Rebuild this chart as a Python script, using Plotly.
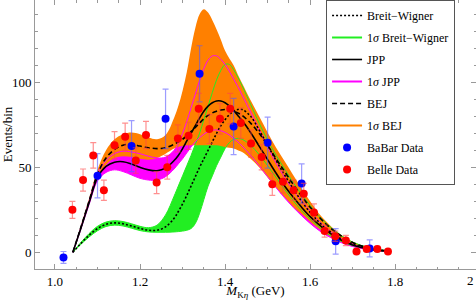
import plotly.graph_objects as go

# ---------------- data ----------------
xs = [1.042, 1.06, 1.08, 1.10, 1.12, 1.14, 1.16, 1.18, 1.20, 1.22, 1.24, 1.26, 1.28,
      1.29, 1.30, 1.31, 1.32, 1.33, 1.34, 1.35, 1.36, 1.37, 1.38, 1.39, 1.40, 1.41, 1.42, 1.43, 1.44,
      1.46, 1.48, 1.50, 1.52, 1.54, 1.56, 1.58, 1.60, 1.62, 1.64, 1.66, 1.68, 1.70, 1.72, 1.74, 1.76, 1.78]

bw = [0, 5, 10, 14, 16.5, 17.3, 16.8, 15.5, 14, 13, 13, 15, 20,
      24, 28.5, 33.5, 39, 44.5, 50, 55, 60, 65, 70, 74.5, 78, 81, 83, 84, 84,
      80, 72, 63, 54, 45.5, 37.5, 30, 23.5, 18, 13.5, 10, 7, 4.8, 3.2, 2.1, 1.3, 0.8]
bw_hi = [0, 5.5, 11, 15.3, 17.8, 18.6, 18.1, 16.8, 15.3, 14.5, 16, 22, 33,
         39, 45, 51, 57, 63.5, 70, 78, 86, 94, 101.5, 107, 110.5, 110.5, 107.5, 103, 98,
         87, 76, 66, 57, 49, 41, 34, 27.5, 21.5, 16.5, 12.3, 8.7, 6, 4.1, 2.7, 1.7, 1.0]
bw_lo = [0, 4.5, 9, 12.7, 15.2, 16, 15.5, 14.2, 12.8, 12, 11.8, 11.8, 12,
         12.2, 12.5, 13, 14, 17, 23, 31, 39, 45, 51, 56, 61, 64.5, 66.5, 67, 66.5,
         63, 57.5, 51, 44, 37, 30.5, 24.5, 19.5, 15, 11, 8, 5.6, 3.8, 2.6, 1.7, 1.1, 0.7]

jpp = [0, 13.5, 29, 44, 50.5, 53, 53.3, 52, 50, 48.5, 48, 49.5, 54,
       57, 61, 65.5, 70, 74.5, 79, 83, 86, 88, 89, 89, 88, 86, 83.5, 80.5, 77.5,
       70.5, 62.5, 54.5, 46.5, 39, 32.5, 26.5, 21, 16.5, 12.5, 9, 6.3, 4.3, 2.9, 1.9, 1.2, 0.7]
jpp_hi = [0, 14, 30, 46, 54, 58, 59.5, 59, 58, 56.5, 55.5, 56, 60,
          64, 70, 77, 85, 93, 101, 108, 113, 115.5, 115.5, 113.5, 110.5, 106.5, 102, 97.5, 92.5,
          82.5, 72, 62, 52.5, 44, 36.5, 30, 24, 18.5, 14, 10, 7, 4.8, 3.2, 2.1, 1.3, 0.8]
jpp_lo = [0, 13, 28, 42, 47, 48.5, 47.5, 45.5, 43.5, 42.5, 42.5, 44.5, 49,
          52, 55, 58.5, 62, 65, 67.5, 69.5, 71, 71.8, 72, 71.5, 70.5, 69, 67, 65, 62.5,
          57, 51, 44.5, 38, 32, 26.5, 21.5, 17, 13, 9.8, 7.2, 5, 3.4, 2.3, 1.5, 1, 0.6]

bej = [0, 14, 30, 46, 55.5, 60.5, 63, 63.5, 62.5, 61.5, 61, 61.5, 63.5,
       65, 66.5, 68.5, 71, 73.5, 76, 78.5, 80.5, 82, 83, 83.7, 84, 83.8, 83, 82, 80.5,
       76, 70, 63, 55, 47.5, 40, 33, 26.5, 21, 16, 12, 8.5, 5.8, 3.8, 2.4, 1.5, 0.9]
bej_hi = [0, 15, 31.5, 48.5, 60, 66.5, 69.5, 70.5, 69.5, 67.5, 66.5, 69, 79,
          86, 95, 106, 120, 132, 140, 143, 141, 136.5, 131, 125, 118.5, 114, 110, 104.5, 99.5,
          89.5, 80, 70.5, 61.5, 53.5, 45.5, 37.5, 30, 23, 17.5, 12.8, 9, 6.2, 4.2, 2.8, 1.8, 1.1]
bej_lo = [0, 13, 28.5, 43.5, 51.5, 55.5, 56.5, 56, 55, 54.5, 55.5, 58, 61,
          62, 62.5, 63, 63, 63, 63, 63, 63, 63, 63, 62.5, 62, 61.5, 61, 60, 59,
          55, 50, 44, 38, 32.5, 27, 22.5, 18, 14, 10.5, 7.6, 5.4, 3.7, 2.4, 1.6, 1, 0.6]

babar_x = [1.02, 1.10, 1.18, 1.26, 1.34, 1.42, 1.50, 1.58, 1.66, 1.74]
babar_y = [-3, 45, 62.5, 78.5, 105, 74, 64.5, 40.5, 6.5, 2.3]
babar_err = [3.5, 13, 15, 17.5, 16.5, 16.5, 15, 11.5, 7.5, 5]

belle_x = [1.041, 1.066, 1.090, 1.115, 1.140, 1.165, 1.190, 1.214, 1.239, 1.264, 1.289,
           1.314, 1.338, 1.363, 1.388, 1.412, 1.437, 1.461, 1.486, 1.511, 1.536, 1.561,
           1.585, 1.609, 1.634, 1.659, 1.684, 1.709, 1.733, 1.758, 1.783]
belle_y = [25, 42.5, 57, 36.5, 63, 68, 54, 69, 41, 50, 67, 68.5, 84.5, 72.5, 78.5, 84.5,
           76, 64, 56, 40, 41.5, 36.5, 34.5, 23.5, 12.5, 9.5, 7, 0.5, 2, 2, 0.5]
belle_err = [5, 6.5, 7.5, 6, 8, 8, 7.5, 8, 6.5, 7, 8, 8, 9, 8.5, 9, 9, 9, 8, 7.5, 6.5,
             6.5, 6, 6, 5, 3.5, 3, 3, 1, 1.5, 1.5, 1]

x_tickvals = [1.0, 1.2, 1.4, 1.6, 1.8]
x_ticktext = ["1.0", "1.2", "1.4", "1.6", "1.8"]
y_tickvals = [0, 50, 100, 150]

GREEN = "#22ee22"
MAGENTA = "#ff00ff"
ORANGE = "#ff8000"
SERIF = "Liberation Serif, Times New Roman, serif"

fig = go.Figure()

def band(lo, hi, color):
    fig.add_trace(go.Scatter(x=xs, y=lo, mode="lines", line=dict(width=0, shape="spline"),
                             showlegend=False, hoverinfo="skip"))
    fig.add_trace(go.Scatter(x=xs, y=hi, mode="lines", line=dict(width=0, shape="spline"),
                             fill="tonexty", fillcolor=color, showlegend=False, hoverinfo="skip"))

band(bw_lo, bw_hi, GREEN)
band(jpp_lo, jpp_hi, MAGENTA)
band(bej_lo, bej_hi, ORANGE)

for series, color in [(bw_lo, GREEN), (bw_hi, GREEN), (jpp_lo, MAGENTA), (jpp_hi, MAGENTA)]:
    fig.add_trace(go.Scatter(x=xs, y=series, mode="lines",
                             line=dict(color=color, width=1, shape="spline"),
                             showlegend=False, hoverinfo="skip"))

fig.add_trace(go.Scatter(x=xs, y=bw, mode="lines", name="Breit\u2212Wigner",
                         line=dict(color="black", width=1.6, dash="2px,2px", shape="spline"),
                         legendrank=1, legendgroup="a"))
fig.add_trace(go.Scatter(x=xs, y=jpp, mode="lines", name="JPP",
                         line=dict(color="black", width=1.6, shape="spline"),
                         legendrank=3, legendgroup="c"))
fig.add_trace(go.Scatter(x=xs, y=bej, mode="lines", name="BEJ",
                         line=dict(color="black", width=1.6, dash="5px,3px", shape="spline"),
                         legendrank=5, legendgroup="e"))

# legend-only entries for the bands
for nm, col, rk, g in [("1<i>\u03c3</i> Breit\u2212Wigner", GREEN, 2, "b"),
                       ("1<i>\u03c3</i> JPP", MAGENTA, 4, "d"),
                       ("1<i>\u03c3</i> BEJ", ORANGE, 6, "f")]:
    fig.add_trace(go.Scatter(x=[None], y=[None], mode="lines", name=nm,
                             line=dict(color=col, width=2), legendrank=rk, legendgroup=g))

fig.add_trace(go.Scatter(x=babar_x, y=babar_y, mode="markers", name="BaBar Data",
                         marker=dict(color="#0000ff", size=8),
                         error_y=dict(type="data", array=babar_err, color="rgba(90,90,255,0.6)",
                                      thickness=1.2, width=3),
                         legendrank=7, legendgroup="g"))
fig.add_trace(go.Scatter(x=belle_x, y=belle_y, mode="markers", name="Belle Data",
                         marker=dict(color="#ff0000", size=8),
                         error_y=dict(type="data", array=belle_err, color="rgba(255,70,70,0.6)",
                                      thickness=1.2, width=3),
                         legendrank=8, legendgroup="h"))

axis_common = dict(showgrid=False, zeroline=False, showline=True, linecolor="#999999",
                   linewidth=1, mirror="allticks", ticks="inside", tickcolor="#999999",
                   ticklen=5, automargin=False,
                   tickfont=dict(family=SERIF, size=13, color="black"))

fig.update_xaxes(range=[0.953, 1.99], tickvals=x_tickvals, ticktext=x_ticktext,
                 minor=dict(dtick=0.05, tick0=1.0, ticks="inside", ticklen=2.5, tickcolor="#999999"),
                 title=dict(text="<i>M</i><sub>K<i>\u03b7</i></sub> (GeV)",
                            font=dict(family=SERIF, size=13, color="black"), standoff=2),
                 **axis_common)
fig.update_yaxes(range=[-9.8, 148.4], tickvals=y_tickvals,
                 minor=dict(dtick=10, tick0=0, ticks="inside", ticklen=2.5, tickcolor="#999999"),
                 title=dict(text="Events/bin", font=dict(family=SERIF, size=13, color="black"),
                            standoff=2),
                 **axis_common)

fig.add_annotation(text="2", xref="paper", yref="paper", x=1.0, y=0, xanchor="right",
                   yanchor="top", yshift=-2, showarrow=False,
                   font=dict(family=SERIF, size=13, color="black"))

fig.update_layout(
    template="none",
    width=476, height=300,
    margin=dict(l=35, r=0, t=0, b=31, autoexpand=False),
    paper_bgcolor="white", plot_bgcolor="white",
    font=dict(family=SERIF, size=13, color="black"),
    showlegend=True,
    hovermode=False,
    legend=dict(x=0.66, y=1.0, xanchor="left", yanchor="top",
                bgcolor="white", bordercolor="#555555", borderwidth=1,
                font=dict(family=SERIF, size=12, color="black"),
                tracegroupgap=3, itemsizing="trace"),
)

fig.write_html("out.html",
               config={"displayModeBar": False, "staticPlot": True},
               post_script="document.body.style.margin='0';document.body.style.padding='0';"
                           "document.body.style.overflow='hidden';")
